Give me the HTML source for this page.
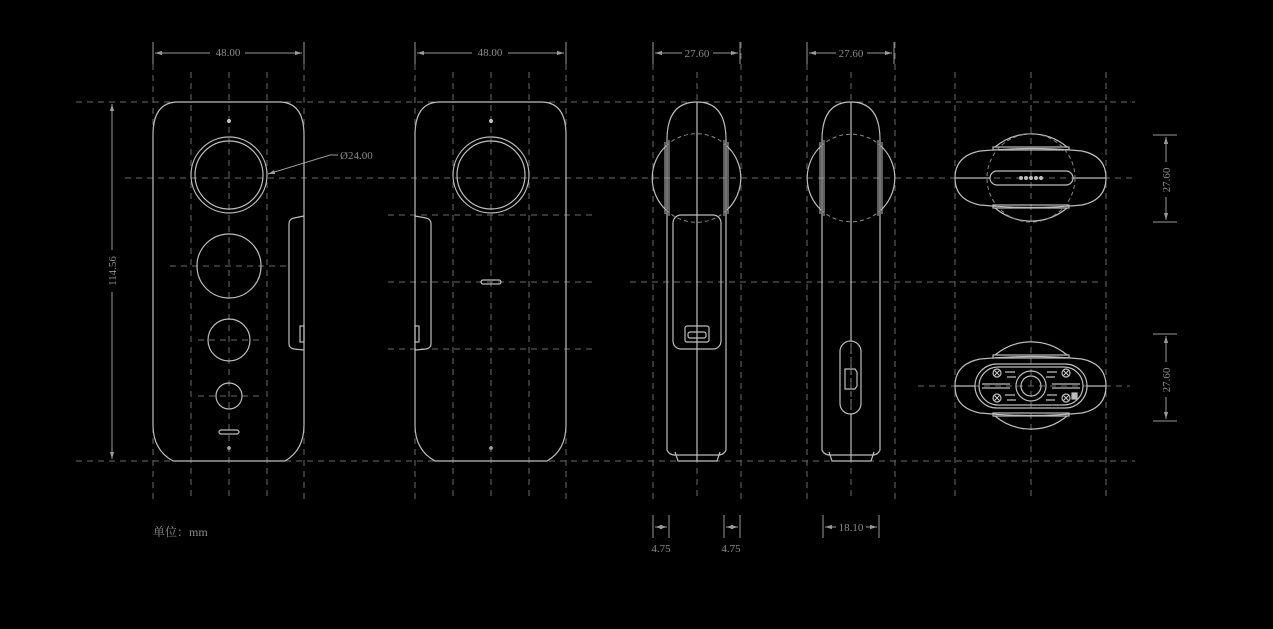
<!DOCTYPE html>
<html><head><meta charset="utf-8"><style>
html,body{margin:0;padding:0;background:#000;}
svg{display:block;}
text{font-family:"Liberation Serif","Noto Serif CJK SC",serif;fill:#8a8a8a;font-size:11px;}
</style></head><body>
<svg width="1273" height="629" viewBox="0 0 1273 629" xmlns="http://www.w3.org/2000/svg">
<defs>
<marker id="a" viewBox="0 0 10 10" refX="10" refY="5" markerWidth="7" markerHeight="7" orient="auto-start-reverse"><path d="M0,2 L10,5 L0,8z" fill="#999"/></marker>
</defs>
<rect width="1273" height="629" fill="#000"/>
<g stroke="#6a6a6a" stroke-width="1" stroke-dasharray="6,5" fill="none">
<line x1="76" y1="102" x2="1135" y2="102"/>
<line x1="125" y1="178" x2="1135" y2="178"/>
<line x1="76" y1="461" x2="1135" y2="461"/>
<line x1="170" y1="266" x2="290" y2="266"/>
<line x1="198" y1="340" x2="260" y2="340"/>
<line x1="198" y1="396" x2="260" y2="396"/>
<line x1="388" y1="215" x2="592" y2="215"/>
<line x1="388" y1="282" x2="592" y2="282"/>
<line x1="388" y1="349" x2="592" y2="349"/>
<line x1="630" y1="282" x2="1100" y2="282"/>
<line x1="918" y1="386" x2="1130" y2="386"/>
<line x1="153" y1="42" x2="153" y2="500"/>
<line x1="191" y1="72" x2="191" y2="500"/>
<line x1="229" y1="72" x2="229" y2="500"/>
<line x1="267" y1="72" x2="267" y2="500"/>
<line x1="304" y1="42" x2="304" y2="500"/>
<line x1="415" y1="42" x2="415" y2="500"/>
<line x1="453" y1="72" x2="453" y2="500"/>
<line x1="491" y1="72" x2="491" y2="500"/>
<line x1="529" y1="72" x2="529" y2="500"/>
<line x1="566" y1="42" x2="566" y2="500"/>
<line x1="653" y1="42" x2="653" y2="500"/>
<line x1="697" y1="72" x2="697" y2="500"/>
<line x1="741" y1="42" x2="741" y2="500"/>
<line x1="807" y1="42" x2="807" y2="500"/>
<line x1="851" y1="72" x2="851" y2="500"/>
<line x1="895" y1="42" x2="895" y2="500"/>
<line x1="955" y1="72" x2="955" y2="500"/>
<line x1="1031" y1="72" x2="1031" y2="500"/>
<line x1="1106" y1="72" x2="1106" y2="500"/>
</g>
<g stroke="#999" stroke-width="1" fill="none">
<line x1="153" y1="42" x2="153" y2="64"/><line x1="304" y1="42" x2="304" y2="64"/>
<line x1="155" y1="53" x2="210" y2="53" marker-start="url(#a)"/><line x1="245" y1="53" x2="302" y2="53" marker-end="url(#a)"/>
<line x1="415" y1="42" x2="415" y2="64"/><line x1="566" y1="42" x2="566" y2="64"/>
<line x1="417" y1="53" x2="472" y2="53" marker-start="url(#a)"/><line x1="508" y1="53" x2="564" y2="53" marker-end="url(#a)"/>
<line x1="653" y1="42" x2="653" y2="64"/><line x1="740" y1="42" x2="740" y2="64"/>
<line x1="655" y1="53" x2="682" y2="53" marker-start="url(#a)"/><line x1="713" y1="53" x2="738" y2="53" marker-end="url(#a)"/>
<line x1="807" y1="42" x2="807" y2="64"/><line x1="894" y1="42" x2="894" y2="64"/>
<line x1="809" y1="53" x2="836" y2="53" marker-start="url(#a)"/><line x1="867" y1="53" x2="892" y2="53" marker-end="url(#a)"/>
<line x1="112" y1="104" x2="112" y2="250" marker-start="url(#a)"/><line x1="112" y1="292" x2="112" y2="459" marker-end="url(#a)"/>
<line x1="1153" y1="135" x2="1177" y2="135"/><line x1="1153" y1="222" x2="1177" y2="222"/>
<line x1="1166" y1="137" x2="1166" y2="162" marker-start="url(#a)"/><line x1="1166" y1="197" x2="1166" y2="220" marker-end="url(#a)"/>
<line x1="1153" y1="334" x2="1177" y2="334"/><line x1="1153" y1="421" x2="1177" y2="421"/>
<line x1="1166" y1="336" x2="1166" y2="362" marker-start="url(#a)"/><line x1="1166" y1="397" x2="1166" y2="419" marker-end="url(#a)"/>
<line x1="653" y1="515" x2="653" y2="538"/><line x1="669" y1="515" x2="669" y2="538"/>
<line x1="655" y1="527" x2="667" y2="527" marker-start="url(#a)" marker-end="url(#a)"/>
<line x1="724" y1="515" x2="724" y2="538"/><line x1="740" y1="515" x2="740" y2="538"/>
<line x1="726" y1="527" x2="738" y2="527" marker-start="url(#a)" marker-end="url(#a)"/>
<line x1="823" y1="515" x2="823" y2="538"/><line x1="879" y1="515" x2="879" y2="538"/>
<line x1="825" y1="527" x2="836" y2="527" marker-start="url(#a)"/><line x1="866" y1="527" x2="877" y2="527" marker-end="url(#a)"/>
<polyline points="338,155 330,155 268,174" marker-end="url(#a)"/>
</g>
<text x="228" y="56" text-anchor="middle">48.00</text>
<text x="490" y="56" text-anchor="middle">48.00</text>
<text x="697" y="57" text-anchor="middle">27.60</text>
<text x="851" y="57" text-anchor="middle">27.60</text>
<text x="340" y="159">Ø24.00</text>
<text transform="translate(116,271) rotate(-90)" text-anchor="middle">114.56</text>
<text transform="translate(1170,180) rotate(-90)" text-anchor="middle">27.60</text>
<text transform="translate(1170,380) rotate(-90)" text-anchor="middle">27.60</text>
<text x="661" y="552" text-anchor="middle">4.75</text>
<text x="731" y="552" text-anchor="middle">4.75</text>
<text x="851" y="531" text-anchor="middle">18.10</text>
<text x="153" y="536" style="font-size:12px">单位：mm</text>

<g stroke="#bdbdbd" stroke-width="1.2" fill="none">
<path d="M178,102 L279,102 Q304,102 304,135 L304,425 Q304,450 285,461 L173,461 Q153,450 153,425 L153,135 Q153,102 178,102Z"/>
<circle cx="229" cy="175" r="38"/><circle cx="229" cy="175" r="34"/>
<circle cx="229" cy="266" r="32"/><circle cx="229" cy="340" r="21"/><circle cx="229" cy="396" r="13"/>
<rect x="219" y="430" width="20" height="4" rx="2"/>
<circle cx="229" cy="448" r="1.2"/><circle cx="229" cy="121" r="1.5" fill="#bdbdbd"/>
<path d="M304,216 L294,218 Q289,219 289,224 L289,344 Q289,348 294,349 L304,350"/>
<rect x="300" y="326" width="4" height="16"/>
<path d="M440,102 L541,102 Q566,102 566,135 L566,425 Q566,450 547,461 L435,461 Q415,450 415,425 L415,135 Q415,102 440,102Z"/>
<circle cx="491" cy="175" r="38"/><circle cx="491" cy="175" r="34"/>
<rect x="481" y="280" width="20" height="4" rx="2"/>
<circle cx="491" cy="448" r="1.2"/><circle cx="491" cy="121" r="1.5" fill="#bdbdbd"/>
<path d="M415,216 L426,218 Q431,219 431,224 L431,344 Q431,348 426,349 L415,350"/>
<rect x="415" y="326" width="4" height="16"/>
<!-- side view 1 -->
<path d="M667,450 L667,140 Q667,102 697,102 Q726,102 726,140 L726,450 Q724,455 718,455 L675,455 Q669,455 667,450Z"/>
<path d="M675,452 L678,461 L717,461 L720,452"/>
<line x1="697" y1="102" x2="697" y2="461"/>
<path d="M666,146 A44,44 0 0,0 666,210"/><path d="M727,146 A44,44 0 0,1 727,210"/>
<path d="M665,142 L665,214 M669,140 L669,216 M724,140 L724,216 M728,142 L728,214" stroke-width="1"/>
<rect x="673" y="215" width="48" height="134" rx="8"/>
<rect x="685" y="326" width="24" height="16" rx="2"/><rect x="688" y="332" width="18" height="6" rx="2"/>
<!-- side view 2 -->
<path d="M822,450 L822,140 Q822,102 851,102 Q880,102 880,140 L880,450 Q878,455 872,455 L830,455 Q824,455 822,450Z"/>
<path d="M829,452 L832,461 L871,461 L874,452"/>
<line x1="851" y1="102" x2="851" y2="341"/><line x1="851" y1="414" x2="851" y2="461"/>
<path d="M821,146 A44,44 0 0,0 821,210"/><path d="M881,146 A44,44 0 0,1 881,210"/>
<path d="M820,142 L820,214 M824,140 L824,216 M878,140 L878,216 M882,142 L882,214" stroke-width="1"/>
<rect x="840" y="341" width="21" height="73" rx="10.5"/>
<path d="M845,369 L855,369 L857,372 L857,386 L855,389 L845,389Z"/>
<!-- top view 1 -->
<path d="M995,147 A56,56 0 0,1 1067,147"/><path d="M995,208 A56,56 0 0,0 1067,208"/>
<rect x="993" y="147" width="76" height="3"/><rect x="993" y="205" width="76" height="3"/>
<path d="M980,151 Q1031,146 1082,151 Q1106,156 1106,178 Q1106,200 1082,205 Q1031,210 980,205 Q955,200 955,178 Q955,156 980,151Z"/>
<line x1="955" y1="178" x2="990" y2="178"/><line x1="1073" y1="178" x2="1106" y2="178"/>
<rect x="990" y="171" width="83" height="14" rx="7"/>
<!-- bottom view -->
<path d="M995,355 A56,56 0 0,1 1067,355"/><path d="M995,416 A56,56 0 0,0 1067,416"/>
<rect x="993" y="355" width="76" height="3"/><rect x="993" y="413" width="76" height="3"/>
<path d="M980,359 Q1031,354 1082,359 Q1106,364 1106,386 Q1106,408 1082,413 Q1031,418 980,413 Q955,408 955,386 Q955,364 980,359Z"/>
<line x1="955" y1="386" x2="975" y2="386"/><line x1="1087" y1="386" x2="1106" y2="386"/>
<rect x="975" y="364" width="112" height="44" rx="22"/>
<rect x="979" y="367" width="104" height="38" rx="19"/>
<circle cx="1031" cy="386" r="15"/><circle cx="1031" cy="386" r="10"/>
<circle cx="997" cy="373" r="4"/><circle cx="1066" cy="373" r="4"/><circle cx="997" cy="398" r="4"/><circle cx="1066" cy="398" r="4"/>
<path d="M994,370l6,6M1000,370l-6,6M1063,370l6,6M1069,370l-6,6M994,395l6,6M1000,395l-6,6M1063,395l6,6M1069,395l-6,6"/>
<path d="M982,384 L1010,384 M982,388 L1010,388 M1052,384 L1080,384 M1052,388 L1080,388"/>
<path d="M1005,372 L1015,372 M1007,377 L1016,377 M1005,395 L1015,395 M1007,400 L1016,400 M1047,372 L1057,372 M1046,377 L1055,377 M1047,395 L1057,395 M1046,400 L1055,400"/>
<rect x="1072" y="393" width="5" height="6" fill="#bdbdbd"/>
</g>
<g stroke="#888" stroke-width="1" fill="none" stroke-dasharray="4,3">
<path d="M666,146 A44,44 0 0,1 727,146"/><path d="M666,210 A44,44 0 0,0 727,210"/>
<path d="M821,146 A44,44 0 0,1 881,146"/><path d="M821,210 A44,44 0 0,0 881,210"/>
<circle cx="1031" cy="178" r="44"/>
<line x1="851" y1="343" x2="851" y2="412"/>
</g>
<g fill="#bdbdbd">
<circle cx="1021" cy="178" r="2"/><circle cx="1026" cy="178" r="2"/><circle cx="1031" cy="178" r="2"/><circle cx="1036" cy="178" r="2"/><circle cx="1041" cy="178" r="2"/>
</g>
</svg>
</body></html>
